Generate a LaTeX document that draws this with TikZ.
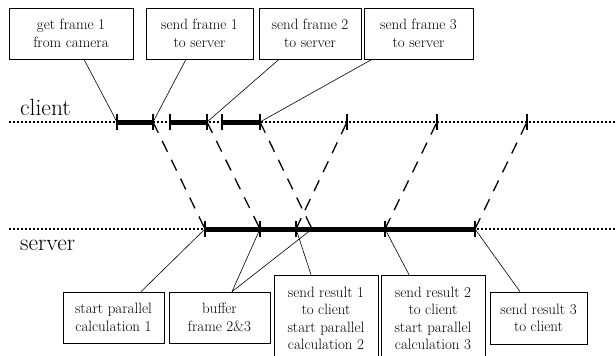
\documentclass[tikz,border=0pt]{standalone}
\usetikzlibrary{calc}
\begin{document}
\begin{tikzpicture}[x=1pt,y=-1pt,
  box/.style={draw, line width=0.7pt, inner sep=0pt, align=center,
    font=\fontsize{15}{17.5}\selectfont},
  timeline/.style={line width=1.1pt, dash pattern=on 2.4pt off 1.6pt},
  busy/.style={line width=5pt},
  tickmark/.style={line width=1.5pt},
  msg/.style={line width=1.3pt, dash pattern=on 12pt off 9pt},
  callout/.style={line width=0.6pt},
  lanelabel/.style={anchor=base west, inner sep=0pt, font=\fontsize{23.5}{27}\selectfont}]
\useasboundingbox (0,0) rectangle (616,356);
\clip (0,0) rectangle (616,356);

% lane ends
\coordinate (cL) at (9,122);   \coordinate (cR) at (616,122);
\coordinate (sL) at (9,229);   \coordinate (sR) at (616,229);

% client events
\coordinate (ca1) at (117,122); \coordinate (ca2) at (153,122);
\coordinate (cb1) at (170,122); \coordinate (cb2) at (207,122);
\coordinate (cc1) at (222,122); \coordinate (cc2) at (260,122);
\coordinate (cr1) at (347,122); \coordinate (cr2) at (437,122);
\coordinate (cr3) at (527,122);

% server events
\coordinate (s0) at (205,229);  \coordinate (s1) at (260,229);
\coordinate (s2) at (296,229);  \coordinate (s2b) at (312,229);
\coordinate (s3) at (385,229);  \coordinate (s4) at (475,229);

% lanes
\node[lanelabel] (client) at (20,115) {client};
\node[lanelabel] (server) at (20,250) {server};
\draw[timeline] (cL) -- (cR);
\draw[timeline] (sL) -- (sR);

% busy intervals
\draw[busy] (ca1) -- (ca2);
\draw[busy] (cb1) -- (cb2);
\draw[busy] (cc1) -- (cc2);
\draw[busy] (s0) -- (s4);

% event ticks
\foreach \p in {ca1,ca2,cb1,cb2,cc1,cc2,cr1,cr2,cr3,s0,s1,s2,s3,s4}
  \draw[tickmark] ([yshift=8pt]\p) -- ([yshift=-8pt]\p);

% messages between client and server
\draw[msg] (ca2) -- (s0);
\draw[msg] (cb2) -- (s1);
\draw[msg] (cc2) -- (s2b);
\draw[msg] (s2) -- (cr1);
\draw[msg] (s3) -- (cr2);
\draw[msg] (s4) -- (cr3);

% client boxes
\node[box, minimum width=124pt, minimum height=51pt] (b1) at (71,33.5)
  {get frame 1\\from camera};
\node[box, minimum width=107pt, minimum height=51pt] (b2) at (199.5,33.5)
  {send frame 1\\to server};
\node[box, minimum width=102pt, minimum height=51pt] (b3) at (310,33.5)
  {send frame 2\\to server};
\node[box, minimum width=109pt, minimum height=51pt] (b4) at (418.5,33.5)
  {send frame 3\\to server};

\draw[callout] ([xshift=13pt]b1.south) -- (ca1);
\draw[callout] ([xshift=-13.5pt]b2.south) -- (ca2);
\draw[callout] ([xshift=-31pt]b3.south) -- (cb2);
\draw[callout] ([xshift=-46.5pt]b4.south) -- (cc2);

% server boxes
\node[box, minimum width=101pt, minimum height=51pt] (p1) at (113.5,317.5)
  {start parallel\\calculation 1};
\node[box, minimum width=101pt, minimum height=51pt] (p2) at (219.5,317.5)
  {buffer\\frame 2\&3};
\node[box, minimum width=104pt, minimum height=87pt] (p3) at (326,318.5)
  {send result 1\\to client\\start parallel\\calculation 2};
\node[box, minimum width=104pt, minimum height=87pt] (p4) at (433,318.5)
  {send result 2\\to client\\start parallel\\calculation 3};
\node[box, minimum width=97pt, minimum height=52pt] (p5) at (538.5,318)
  {send result 3\\to client};

\draw[callout] ([xshift=27.5pt]p1.north) -- (s0);
\draw[callout] ([xshift=12.5pt]p2.north) -- (s1);
\draw[callout] ([xshift=12.5pt]p2.north) -- (s2b);
\draw[callout] ([xshift=-15pt]p3.north) -- (s2);
\draw[callout] ([xshift=-24pt]p4.north) -- (s3);
\draw[callout] ([xshift=-18.5pt]p5.north) -- (s4);
\end{tikzpicture}
\end{document}
